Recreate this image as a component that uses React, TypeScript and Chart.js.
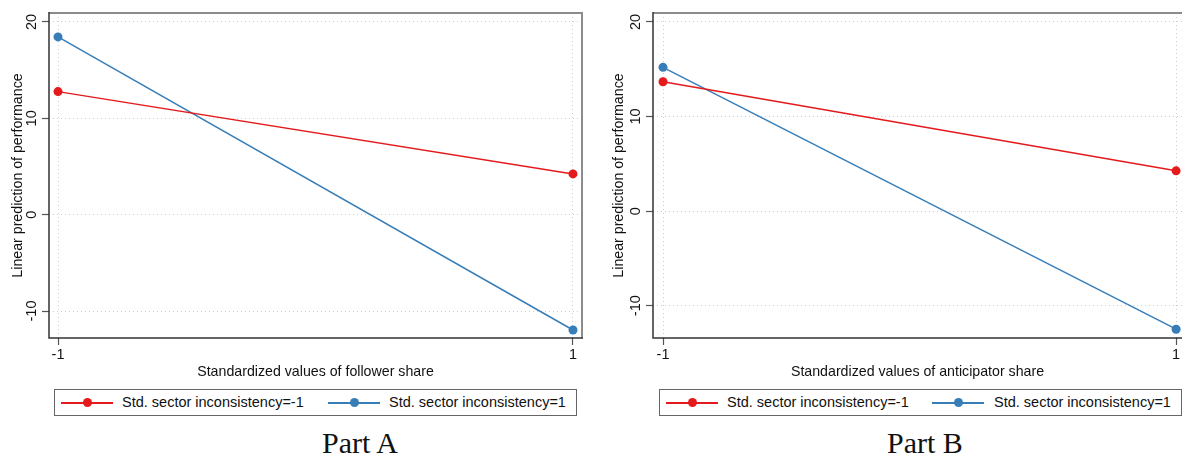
import React, { useEffect, useRef } from "react";
import { Chart, registerables } from "chart.js";
Chart.register(...registerables);

const xPoints = [-1, 1];
const xTickValues = [-1, 1];
const yTickValues = [-10, 0, 10, 20];
const seriesLabels = ["Std. sector inconsistency=-1", "Std. sector inconsistency=1"];
const partALow = [12.77, 4.23];
const partAHigh = [18.45, -11.97];
const partBLow = [13.68, 4.26];
const partBHigh = [15.2, -12.49];
const xTitles = ["Standardized values of follower share", "Standardized values of anticipator share"];
const yTitle = "Linear prediction of performance";
const partLabels = ["Part A", "Part B"];

const RED = "#e41a1c";
const BLUE = "#377eb8";
const FONT = "'Liberation Sans', Arial, Helvetica, sans-serif";

const makeFramePlugin = (drawRight: boolean) => ({
  id: "frame",
  beforeDatasetsDraw(chart: any) {
    const { ctx, chartArea: a } = chart;
    ctx.save();
    ctx.strokeStyle = "#8c8c8c";
    ctx.lineWidth = 2;
    ctx.beginPath();
    ctx.moveTo(a.left, a.top);
    ctx.lineTo(a.right + 1, a.top);
    ctx.stroke();
    if (drawRight) {
      ctx.beginPath();
      ctx.moveTo(a.right, a.top);
      ctx.lineTo(a.right, a.bottom);
      ctx.stroke();
    }
    ctx.strokeStyle = "#333";
    ctx.lineWidth = 1.5;
    ctx.beginPath();
    ctx.moveTo(a.left, a.top - 1);
    ctx.lineTo(a.left, a.bottom);
    ctx.lineTo(a.right + 1, a.bottom);
    ctx.stroke();
    ctx.restore();
  },
});

type PanelProps = {
  left: number;
  width: number;
  yAxisWidth: number;
  padRight: number;
  xMin: number;
  xMax: number;
  yMin: number;
  yMax: number;
  low: number[];
  high: number[];
  xTitle: string;
  yTitlePad: number;
  drawRight: boolean;
};

function Panel(p: PanelProps) {
  const ref = useRef<HTMLCanvasElement>(null);
  useEffect(() => {
    const mk = (label: string, vals: number[], color: string) => ({
      label,
      data: xPoints.map((x, i) => ({ x, y: vals[i] })),
      borderColor: color,
      backgroundColor: color,
      borderWidth: 1.5,
      pointRadius: 4.5,
      pointBorderWidth: 0,
      pointBackgroundColor: color,
      tension: 0,
    });
    const chart = new Chart(ref.current as HTMLCanvasElement, {
      type: "line",
      data: {
        datasets: [mk(seriesLabels[0], p.low, RED), mk(seriesLabels[1], p.high, BLUE)],
      },
      options: {
        animation: false,
        responsive: false,
        maintainAspectRatio: false,
        layout: { padding: { top: 13, right: p.padRight, left: 0, bottom: 0 } },
        plugins: { legend: { display: false }, tooltip: { enabled: false } },
        scales: {
          x: {
            type: "linear",
            min: p.xMin,
            max: p.xMax,
            afterBuildTicks: (s: any) => {
              s.ticks = xTickValues.map((v) => ({ value: v }));
            },
            afterFit: (s: any) => {
              s.height = 47;
            },
            grid: { color: "#cdcdcd", lineWidth: 1, tickLength: 7, tickColor: "#555", tickWidth: 1.2 },
            border: { display: false, dash: [1, 3] },
            ticks: {
              color: "#111",
              font: { family: FONT, size: 14.5 },
              padding: 1,
              maxRotation: 0,
              autoSkip: false,
              callback: (v: any) => String(v),
            },
            title: {
              display: true,
              text: p.xTitle,
              color: "#111",
              font: { family: FONT, size: 14.2 },
              padding: { top: 0, bottom: 4.6 },
            },
          },
          y: {
            type: "linear",
            min: p.yMin,
            max: p.yMax,
            afterBuildTicks: (s: any) => {
              s.ticks = yTickValues.map((v) => ({ value: v }));
            },
            afterFit: (s: any) => {
              s.width = p.yAxisWidth;
            },
            grid: { color: "#cdcdcd", lineWidth: 1, tickLength: 7, tickColor: "#555", tickWidth: 1.2 },
            border: { display: false, dash: [1, 3] },
            ticks: {
              color: "#111",
              font: { family: FONT, size: 14.5 },
              padding: 0,
              minRotation: 90,
              maxRotation: 90,
              crossAlign: "center",
              autoSkip: false,
              callback: (v: any) => String(v),
            },
            title: {
              display: true,
              text: yTitle,
              color: "#111",
              font: { family: FONT, size: 14.2 },
              padding: { top: p.yTitlePad, bottom: 0 },
            },
          },
        },
      } as any,
      plugins: [makeFramePlugin(p.drawRight)],
    });
    return () => chart.destroy();
  }, []);
  return (
    <canvas
      ref={ref}
      width={p.width}
      height={385}
      style={{ position: "absolute", left: p.left, top: 0, width: p.width, height: 385 }}
    />
  );
}

type LegendProps = {
  left: number;
  width: number;
  items: { lineStart: number; textStart: number; color: string; label: string }[];
};

function Legend(l: LegendProps) {
  return (
    <div
      style={{
        position: "absolute",
        left: l.left,
        top: 389,
        width: l.width - 2,
        height: 25,
        border: "1px solid #666",
        fontFamily: FONT,
        fontSize: 14.5,
        color: "#111",
      }}
    >
      {l.items.map((it, i) => (
        <React.Fragment key={i}>
          <div
            style={{
              position: "absolute",
              left: it.lineStart - l.left - 1,
              top: 12,
              width: 52,
              height: 1.5,
              background: it.color,
            }}
          />
          <div
            style={{
              position: "absolute",
              left: it.lineStart - l.left - 1 + 26 - 4.5,
              top: 12.75 - 4.5,
              width: 9,
              height: 9,
              borderRadius: "50%",
              background: it.color,
            }}
          />
          <div
            style={{
              position: "absolute",
              left: it.textStart - l.left - 1,
              top: 3,
              lineHeight: "18px",
              whiteSpace: "nowrap",
            }}
          >
            {it.label}
          </div>
        </React.Fragment>
      ))}
    </div>
  );
}

export default function App() {
  return (
    <div style={{ position: "absolute", left: 0, top: 0, width: 1182, height: 457, background: "#fff", overflow: "hidden" }}>
      <Panel
        left={0}
        width={592}
        yAxisWidth={49}
        padRight={10}
        xMin={-1.035}
        xMax={1.035}
        yMin={-12.8}
        yMax={20.93}
        low={partALow}
        high={partAHigh}
        xTitle={xTitles[0]}
        yTitlePad={10}
        drawRight={true}
      />
      <Panel
        left={600}
        width={600}
        yAxisWidth={53}
        padRight={18}
        xMin={-1.039}
        xMax={1.023}
        yMin={-13.42}
        yMax={20.95}
        low={partBLow}
        high={partBHigh}
        xTitle={xTitles[1]}
        yTitlePad={11}
        drawRight={false}
      />
      <Legend
        left={54}
        width={523}
        items={[
          { lineStart: 61, textStart: 122, color: RED, label: seriesLabels[0] },
          { lineStart: 328, textStart: 389, color: BLUE, label: seriesLabels[1] },
        ]}
      />
      <Legend
        left={659}
        width={523}
        items={[
          { lineStart: 666, textStart: 727, color: RED, label: seriesLabels[0] },
          { lineStart: 932, textStart: 994, color: BLUE, label: seriesLabels[1] },
        ]}
      />
      {partLabels.map((t, i) => (
        <div
          key={i}
          style={{
            position: "absolute",
            left: i === 0 ? 322 : 887,
            top: 428,
            fontFamily: "'Liberation Serif', 'Times New Roman', serif",
            fontSize: 30,
            lineHeight: "30px",
            color: "#111",
            whiteSpace: "nowrap",
          }}
        >
          {t}
        </div>
      ))}
    </div>
  );
}
